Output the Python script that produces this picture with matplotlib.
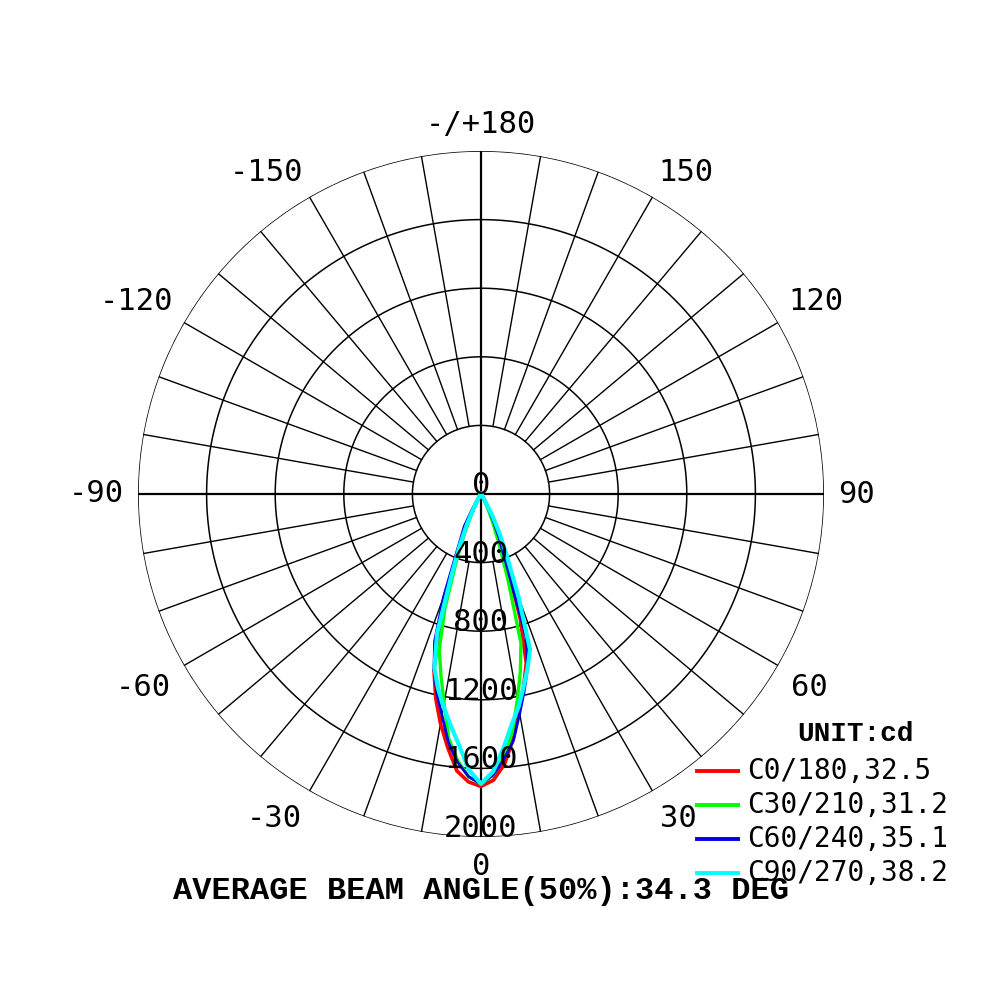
import matplotlib
matplotlib.use("Agg")
import matplotlib.pyplot as plt
from matplotlib.lines import Line2D
import numpy as np

# gamma angles (deg) and intensities (cd) for each half plane
gamma = [0, 2.5, 5, 7.5, 10, 12.5, 15, 17.5, 20, 22.5, 25, 27.5, 30, 32.5, 35,
         40, 50, 60, 70, 80, 90]

c0 = [1705, 1670, 1580, 1440, 1280, 1150, 1020, 760, 450, 280, 160, 70, 20, 8, 3,
      1, 0, 0, 0, 0, 0]
c180 = [1705, 1680, 1620, 1490, 1360, 1220, 1060, 800, 480, 300, 170, 80, 25, 8, 3,
        1, 0, 0, 0, 0, 0]
c30 = [1690, 1640, 1540, 1400, 1220, 1060, 900, 520, 300, 180, 100, 50, 15, 5, 2,
       1, 0, 0, 0, 0, 0]
c210 = [1690, 1650, 1560, 1440, 1240, 1080, 940, 700, 430, 260, 140, 60, 20, 6, 2,
        1, 0, 0, 0, 0, 0]
c60 = [1690, 1640, 1550, 1450, 1300, 1170, 1050, 870, 420, 270, 160, 80, 25, 8, 3,
       1, 0, 0, 0, 0, 0]
c240 = [1690, 1650, 1570, 1460, 1310, 1190, 1060, 900, 640, 380, 270, 210, 100, 40, 10,
        2, 0, 0, 0, 0, 0]
c90 = [1690, 1620, 1490, 1360, 1260, 1150, 1050, 950, 640, 400, 260, 150, 50, 15, 5,
       1, 0, 0, 0, 0, 0]
c270 = [1690, 1610, 1470, 1360, 1260, 1160, 1050, 850, 500, 320, 190, 90, 30, 10, 5,
        1, 0, 0, 0, 0, 0]

names = ["C0/180,32.5", "C30/210,31.2", "C60/240,35.1", "C90/270,38.2"]
colors = ["#ff0000", "#00ff00", "#0000e0", "#00ffff"]
widths = [2.6, 2.4, 2.0, 3.0]

rings = [400, 800, 1200, 1600, 2000]
ang_ticks = [0, 30, 60, 90, 120, 150, 180, -150, -120, -90, -60, -30]
ang_labels = ["0", "30", "60", "90", "120", "150", "-/+180",
              "-150", "-120", "-90", "-60", "-30"]

fig = plt.figure(figsize=(10, 10), dpi=100)
ax = fig.add_axes([0.138, 0.163, 0.686, 0.686], projection="polar")
ax.set_theta_zero_location("S")
ax.set_theta_direction(1)
ax.set_ylim(0, 2000)
ax.grid(False)
ax.set_xticks([])
ax.set_yticks([])
ax.spines["polar"].set_visible(False)

# grid circles
tt = np.linspace(0, 2 * np.pi, 721)
for r in rings:
    ax.plot(tt, np.full_like(tt, r), color="black", lw=1.1, zorder=1)

# spokes every 10 degrees, full diameters on the main axes
for a in range(0, 360, 10):
    t = np.radians(a)
    if a % 90 == 0:
        ax.plot([t, t], [0, 2000], color="black", lw=1.6, zorder=1)
    else:
        ax.plot([t, t], [400, 2000], color="black", lw=1.0, zorder=1)

mono = "DejaVu Sans Mono"
for a, lab in zip(ang_ticks, ang_labels):
    s, c = np.sin(np.radians(a)), np.cos(np.radians(a))
    ha = "center" if abs(s) < 0.01 else ("left" if s > 0 else "right")
    va = "center" if abs(c) < 0.01 else ("top" if c > 0 else "bottom")
    rl = 2085 if c >= -0.01 else 2070
    ax.text(np.radians(a), rl, lab, ha=ha, va=va, fontsize=22, family=mono)

ax.text(0, 0, "0", ha="center", va="baseline", fontsize=22, family=mono, zorder=5)
for r in rings:
    ax.text(0, r, str(r), ha="center", va="baseline",
            fontsize=22, family=mono, zorder=5)

# curves: left half = C180.., right half = C0..
g = np.radians(gamma)
pairs = [(c0, c180), (c30, c210), (c60, c240), (c90, c270)]
for (right, left), col, lw in zip(pairs, colors, widths):
    th = np.concatenate([-g[::-1], g[1:]])
    rr = np.concatenate([np.array(left)[::-1], np.array(right)[1:]])
    ax.plot(th, rr, color=col, lw=lw, zorder=3)

# legend
fig.text(0.855, 0.266, "UNIT:cd", ha="center", va="center", fontsize=20,
         family="Liberation Mono", weight="bold")
for i, (nm, col) in enumerate(zip(names, colors)):
    y = 0.229 - i * 0.034
    fig.add_artist(Line2D([0.697, 0.738], [y, y], color=col, lw=2.8,
                          transform=fig.transFigure))
    fig.text(0.747, y, nm, ha="left", va="center", fontsize=20, family=mono)

fig.text(0.481, 0.109, "AVERAGE BEAM ANGLE(50%):34.3 DEG", ha="center",
         va="center", fontsize=23, family="Liberation Mono", weight="bold")

fig.savefig("out.png", dpi=100, facecolor="white")
